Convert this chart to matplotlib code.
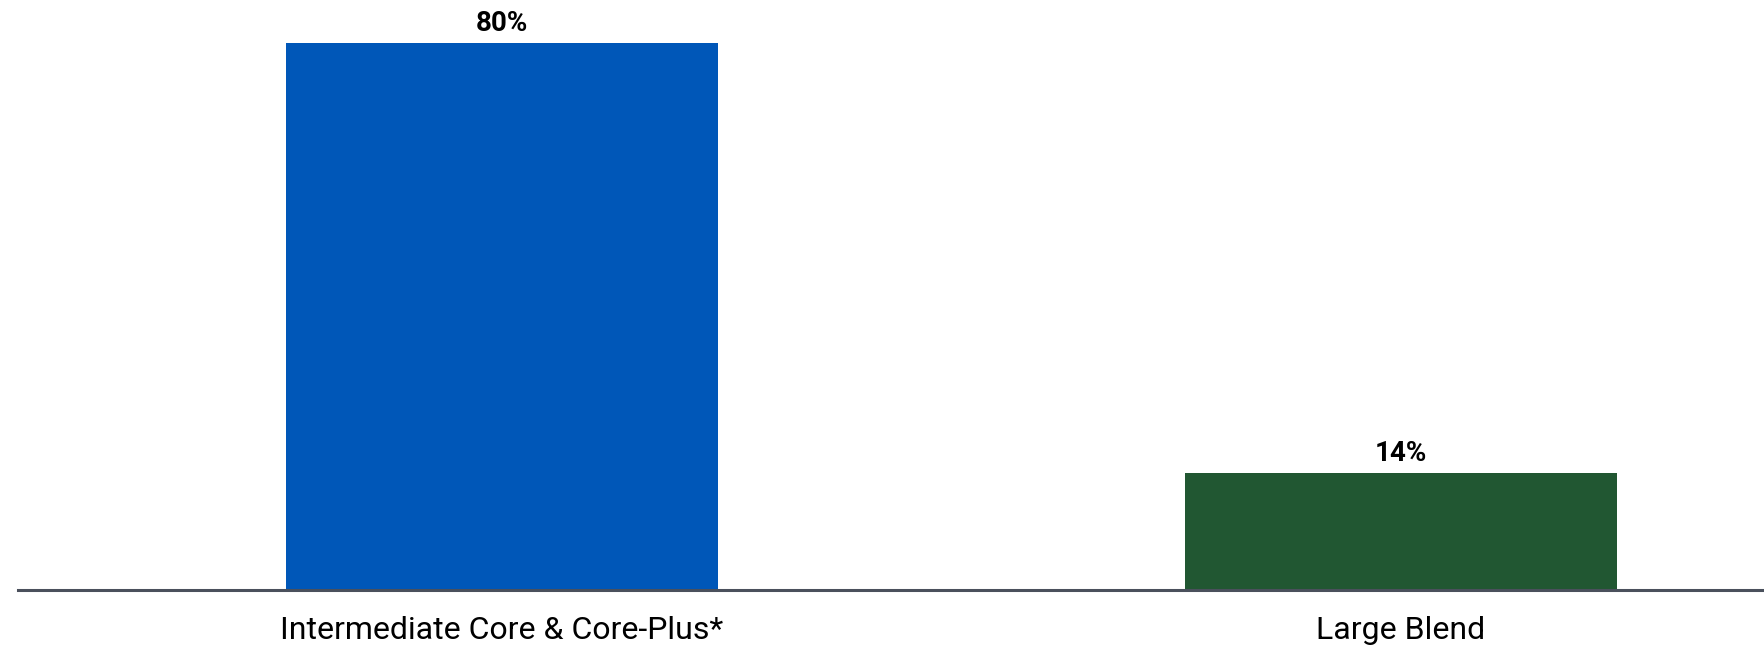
import matplotlib.pyplot as plt

categories = ['Intermediate Core & Core-Plus*', 'Large Blend']
values = [80, 14]
colors = ['#0057b8', '#215732']

plt.rcParams['font.family'] = ['Roboto', 'DejaVu Sans']

fig = plt.figure(figsize=(17.65, 6.48), dpi=100)
ax = fig.add_axes([18 / 1765, 58 / 648, 1 - 18 / 1765, 590 / 648])

ymin = -4
xs = list(range(len(categories)))
ax.bar(xs, [v - ymin for v in values], bottom=ymin, width=0.48, color=colors)

for x, v in zip(xs, values):
    ax.text(x, v + 0.9, f'{v}%', ha='center', va='bottom',
            fontsize=20, fontweight='bold', color='black')

ax.set_xlim(-0.538, 1.405)
ax.set_ylim(ymin, 86.6)
ax.set_xticks(xs)
ax.set_xticklabels(categories, fontsize=23)
ax.tick_params(axis='x', length=0, pad=19)
ax.set_yticks([])

for side in ['top', 'right', 'left']:
    ax.spines[side].set_visible(False)
ax.spines['bottom'].set_color('#4a505c')
ax.spines['bottom'].set_linewidth(2.2)

fig.savefig('out.png', dpi=100)
